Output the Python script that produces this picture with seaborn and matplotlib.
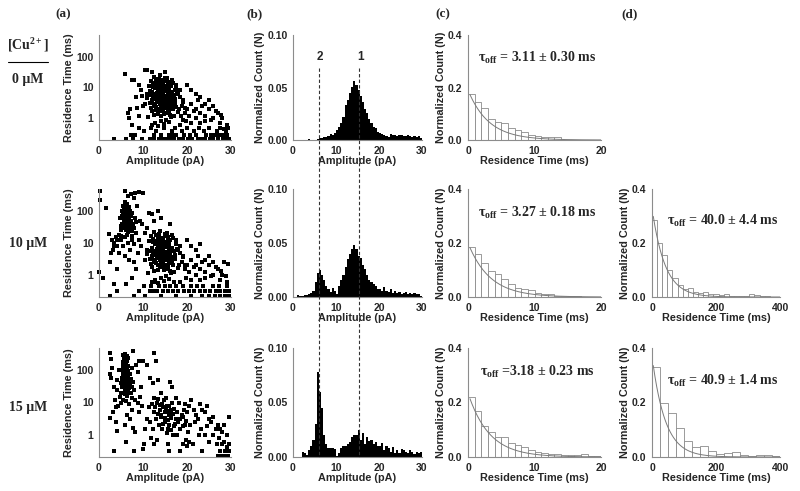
import numpy as np
import pandas as pd
import matplotlib
matplotlib.use("Agg")
import matplotlib.pyplot as plt
import matplotlib.transforms as mtrans
from matplotlib.lines import Line2D
import seaborn as sns

sns.set_style("white")
plt.rcParams["font.family"] = ["Liberation Sans", "DejaVu Sans"]
plt.rcParams["mathtext.fontset"] = "custom"
plt.rcParams["mathtext.rm"] = "Liberation Serif:bold"
plt.rcParams["mathtext.bf"] = "Liberation Serif:bold"
plt.rcParams["mathtext.it"] = "Liberation Serif:bold"

# ---------------- data ----------------
concentrations = ["0 \u03bcM", "10 \u03bcM", "15 \u03bcM"]

# shared dense core of the ~15 pA population (amplitude pA, residence time ms)
core_15pA = [
    (12.3, 4.1), (13.1, 6.5), (13.8, 2.9), (14.2, 8.8), (14.7, 3.6), (15.1, 5.2), (15.6, 12.1), (16.2, 4.4),
    (13.5, 15.3), (14.9, 19.8), (12.8, 9.4), (11.6, 3.2), (12.1, 1.8), (13.4, 1.4), (14.5, 1.9), (15.8, 2.3),
    (16.7, 7.1), (17.3, 3.1), (17.9, 1.6), (16.4, 1.1), (15.3, .9), (14.0, .8), (12.7, .7), (11.2, 1.1),
    (10.8, 6.1), (11.4, 11.2), (12.5, 22.0), (13.9, 24.5), (15.5, 21.0), (16.9, 14.0), (17.6, 9.0), (18.3, 4.9),
    (18.8, 2.6), (13.2, 3.3), (14.4, 5.7), (15.4, 7.6), (16.0, 9.9), (14.8, 10.8), (13.7, 11.9), (12.9, 5.0),
    (12.0, 7.2), (14.1, 4.6), (15.9, 3.4), (16.8, 2.0), (13.0, 2.4), (14.6, 2.7), (15.2, 1.5), (16.1, 1.3),
    (12.4, 1.3), (11.8, 2.2), (11.0, 4.5), (10.5, 2.9), (17.0, 5.8), (17.8, 6.6), (18.5, 8.2), (19.2, 3.5),
    (19.6, 2.1), (13.3, 8.0), (14.3, 14.8), (15.0, 16.5), (16.3, 6.0), (15.7, 4.0), (14.9, 4.4), (13.6, 5.3),
    (12.6, 3.0), (13.9, 3.9), (14.4, 2.2), (15.5, 2.9), (16.5, 3.6), (12.2, 10.5), (11.9, 16.8), (13.0, 18.2),
    (16.6, 17.5), (17.4, 12.5), (18.1, 2.0), (17.1, 1.2), (16.0, .75), (14.8, .65), (13.5, .55), (12.0, .6),
    (13.6, 7.0), (14.0, 6.0), (14.6, 6.8), (15.2, 9.0), (15.8, 6.5), (14.3, 11.0), (13.8, 4.8), (14.9, 3.1),
    (13.4, 4.4), (14.0, 3.2), (14.5, 4.9), (15.0, 3.9), (15.4, 4.7), (15.9, 5.1), (16.4, 3.0), (13.1, 3.8),
    (12.6, 5.6), (13.5, 9.8), (14.1, 7.4), (14.8, 8.2), (15.3, 11.0), (15.9, 7.8), (16.2, 2.6), (15.0, 2.1),
    (14.2, 2.6), (13.3, 2.0), (12.8, 2.6), (13.9, 1.7), (14.7, 1.4), (15.6, 1.7), (16.6, 2.5), (17.2, 4.2),
    (12.3, 13.0), (13.7, 19.0), (14.6, 13.5), (15.7, 15.5), (16.2, 12.8), (13.0, 11.5), (12.1, 3.9), (11.5, 5.6),
]

events_0uM = core_15pA + [
    (3.5, .21), (6.2, .21), (7.8, .21), (9.7, .21), (11.5, .21), (12.4, .21), (13.6, .21), (14.3, .21),
    (15.2, .21), (16.1, .21), (17.0, .21), (18.2, .21), (19.1, .21), (20.3, .21), (21.2, .21), (22.4, .21),
    (23.3, .21), (24.1, .21), (25.2, .21), (26.0, .21), (27.1, .21), (28.2, .21), (28.9, .21), (29.6, .21),
    (7.3, .3), (8.1, .3), (12.6, .3), (14.1, .3), (15.8, .3), (16.9, .3), (17.6, .3), (19.4, .3), (20.6, .3),
    (22.1, .3), (24.3, .3), (25.4, .3), (25.9, .3), (26.6, .3), (27.3, .3), (27.9, .3), (28.5, .3), (29.2, .3),
    (10.2, .4), (13.0, .4), (16.5, .4), (18.8, .4), (21.7, .4), (23.8, .4), (26.9, .4), (28.8, .4),
    (9.1, .5), (11.8, .5), (14.7, .5), (17.3, .5), (20.0, .5), (22.8, .5), (25.0, .5), (27.6, .5), (29.4, .5),
    (6.0, 28), (7.5, 18), (8.0, 18), (10.5, 38), (11.0, 36), (12.0, 32), (15.0, 32), (9.0, 12), (9.5, 8),
    (8.5, 5), (7.0, 2), (6.5, 1.5), (6.8, 1), (7.5, .6), (9.2, 1.2), (10.0, 2.5), (8.7, 2.2), (9.8, 5.5),
    (13.2, 12.5), (12.7, 14.0), (14.1, 17.0), (15.9, 14.5), (16.4, 11.5), (17.2, 8.0), (12.4, 6.2), (11.5, 7.8),
    (15.6, 5.6), (16.8, 4.7), (12.9, 1.9), (14.2, 1.2), (15.9, 1.8), (17.5, 2.4), (18.6, 1.2), (19.0, .9),
    (20, 12), (21, 8), (22, 6), (23, 5), (24, 3), (25, 4), (26, 2.5), (27, 1.5), (28, 1), (29, .6),
    (23, 1.5), (22, 1), (21, .7), (24, .8), (20, 2), (21, 3), (22, 2), (19, 4), (18, 6), (19.5, 1.5),
    (24, 1.2), (26, 1), (27.5, .7), (28.5, .45), (25, 2), (23.5, 2.5), (22.5, 4), (21.5, 1.8), (20.5, 1.2),
    (26.5, 1.8), (27.8, 1.3), (25.5, .9), (23.0, .7), (19.8, .8), (18.5, .6),
]

events_10uM = core_15pA + [
    (0.3, 440), (0.2, 226), (1.7, 130), (2.3, 19), (1.0, .8), (2.5, 2.5), (3.5, .5), (4.2, 1.5), (0.1, 1.2),
    (3.0, 12), (3.3, 8), (2.8, 5),
    (5.2, 40), (5.6, 65), (5.9, 90), (6.1, 120), (6.3, 55), (6.6, 75), (6.9, 35), (7.2, 50), (7.5, 28),
    (5.4, 150), (6.0, 200), (6.4, 170), (5.8, 30), (6.2, 25), (6.7, 22), (7.0, 100), (5.5, 85), (6.5, 110),
    (7.3, 70), (7.7, 40), (8.0, 30), (8.2, 60), (5.0, 25), (4.8, 60), (6.8, 140), (6.1, 45), (5.7, 52),
    (6.4, 38), (7.1, 32), (6.0, 70), (5.3, 100), (6.9, 60), (7.6, 24), (8.4, 45), (8.5, 20), (4.5, 18),
    (4.2, 12), (4.0, 8), (3.8, 15), (3.5, 10), (5.0, 12), (5.5, 8), (6.0, 15), (6.5, 10), (7.0, 6),
    (7.5, 12), (8.0, 9), (8.8, 5), (9.0, 12), (4.6, 5), (3.2, 6), (5.8, 4), (6.9, 3), (7.9, 2.5),
    (8.3, 1.5), (6.3, 18), (7.4, 17), (5.1, 17), (6.6, 300), (7.2, 350), (8.1, 380), (9.0, 400),
    (10.0, 380), (7.9, 260), (5.9, 420), (8.7, 150), (9.4, 50), (9.8, 40), (4.9, 35), (6.2, .5), (7.4, .8),
    (5.6, 48), (6.0, 58), (6.3, 80), (5.9, 38), (6.7, 45), (7.0, 42), (5.4, 33), (6.5, 28), (6.1, 95),
    (5.8, 130), (6.6, 60), (7.4, 85), (5.2, 70), (6.8, 30), (6.2, 150), (5.7, 110), (6.4, 90), (6.0, 36),
    (11.3, 90), (12.0, 80), (13.5, 100), (12.5, 50), (11.0, 30), (16.2, 40), (14.0, 60), (10.5, 20), (9.6, 8),
    (20, 12), (21, 8), (22, 6), (23, 9), (24, 3), (25, 4), (26, 2.5), (27, 1.5), (28, 1), (29, .6),
    (23, 1.5), (22, 1), (21, .7), (24, .8), (20, 2), (21, 3), (22, 2), (19, 4), (18, 6), (19.5, 1.5),
    (24, 1.2), (26, 1), (27.5, .7), (28.5, 2.5), (25, 2), (23.5, 2.5), (22.5, 4), (21.5, 1.8), (20.5, 1.2),
    (26.5, 1.8), (27.8, 1.3), (29.3, 2.2), (28.9, .9), (25.5, .9), (23.0, .7), (19.8, .8), (18.5, .6),
    (4.0, .3), (9.2, .3), (11.5, .3), (12.4, .3), (13.2, .3), (14.5, .3), (15.6, .3), (16.8, .3), (18.0, .3),
    (19.3, .3), (20.4, .3), (21.6, .3), (22.9, .3), (24.2, .3), (25.3, .3), (26.5, .3), (27.6, .3), (28.7, .3),
    (29.6, .3), (10.3, .45), (11.9, .45), (13.6, .45), (14.9, .45), (16.2, .45), (17.6, .45), (19.0, .45),
    (20.8, .45), (22.3, .45), (23.6, .45), (25.8, .45), (27.2, .45), (29.0, .45), (12.8, .6), (17.0, .6),
    (2.5, .21), (8.0, .21), (10.5, .21), (14.0, .21), (17.5, .21), (21.0, .21), (23.5, .21), (25.0, .21),
    (26.4, .21), (27.5, .21), (28.6, .21), (29.5, .21),
]

events_15uM = [
    (2.6, 350), (2.8, 220), (2.5, 80), (2.7, 60), (3.0, 120), (2.6, 3.2), (3.5, .3), (4.2, 1.3), (3.9, 2.5),
    (3.3, 30), (3.6, 12), (4.0, 50), (4.2, 25), (4.5, 100), (4.4, 8), (4.8, 15), (3.1, 5), (3.8, 7),
    (5.0, 40), (5.2, 60), (5.4, 90), (5.5, 140), (5.6, 200), (5.7, 70), (5.8, 110), (5.9, 50), (6.0, 160),
    (6.1, 85), (6.2, 45), (6.3, 130), (6.4, 65), (6.5, 35), (6.6, 95), (6.7, 55), (6.9, 28), (7.1, 75),
    (5.3, 30), (5.6, 45), (5.9, 25), (6.2, 38), (6.6, 22), (7.0, 40), (5.1, 20), (5.8, 18), (6.4, 16),
    (7.2, 20), (7.6, 30), (7.8, 45), (8.0, 25), (5.5, 300), (5.9, 330), (6.3, 280), (6.0, 240), (6.7, 250),
    (5.7, 55), (6.0, 60), (6.3, 70), (5.8, 80), (6.1, 100), (6.4, 110), (5.5, 120), (6.2, 180), (5.9, 150),
    (6.5, 60), (6.8, 80), (5.4, 65), (6.0, 34), (6.3, 28), (5.7, 32), (6.6, 42), (6.9, 48), (7.3, 55),
    (5.6, 95), (6.0, 125), (6.3, 100), (5.8, 170), (6.1, 210), (5.5, 75), (6.5, 140), (5.9, 65), (6.2, 55),
    (5.6, 38), (6.4, 48), (6.0, 44), (5.3, 48), (6.7, 70), (6.1, 30), (5.7, 260), (6.4, 200), (5.4, 180),
    (4.9, 10), (5.5, 12), (6.1, 11), (6.8, 9), (7.4, 14), (8.2, 12), (8.8, 10), (9.3, 15), (9.6, 30),
    (8.5, 150), (9.2, 200), (7.8, 400), (8.9, 90), (7.5, 120), (10.0, 200), (9.8, 8), (9.0, 5),
    (6.3, 4), (7.0, 3), (7.7, 1.6), (8.2, 1.2), (6.2, .6), (8.0, .3), (5.8, 2), (7.4, 6),
    (12.4, 350), (13.0, 200), (11.0, 150), (11.5, 60), (12.2, 40), (13.5, 50), (16.2, 45), (16.6, 30),
    (14.0, 20), (15.2, 14), (12.6, 14), (13.2, 10), (14.4, 9), (15.5, 8), (16.3, 6), (13.8, 6), (12.4, 5),
    (14.9, 5), (15.8, 4), (16.8, 4.5), (17.5, 3), (14.2, 3.5), (13.0, 3), (11.7, 2.5), (12.2, 1.5),
    (13.6, 2), (15.0, 2.5), (16.0, 2), (17.0, 1.8), (18.0, 2.5), (18.5, 1.5), (19.0, 3.5), (19.5, 2),
    (20.0, 5), (20.5, 8), (21.0, 12), (21.5, 6), (22.0, 4), (22.5, 3), (23.0, 9), (23.5, 6), (24.0, 5),
    (24.5, 8), (25.0, 3), (25.5, 2.5), (26.0, 3.5), (26.5, 1.5), (27.0, 2), (27.5, 1.5), (28.0, 1.2),
    (28.5, 2), (29.0, 1), (29.6, 3.5), (18.2, 10), (17.4, 14), (19.6, 9), (21.8, 2.5), (23.2, 1.5),
    (24.6, 1.8), (20.2, 1.2), (19.0, 1.8), (17.8, 1), (16.4, 1.4), (15.4, 1.1), (14.3, 1.5), (13.2, .7),
    (11.8, .8), (10.5, 1.5), (10.8, 3), (11.3, 7), (12.0, 9), (14.8, 12), (16.0, 8), (15.3, 6.5),
    (14.6, 7.5), (13.9, 8.5), (16.5, 10), (17.8, 5), (18.8, 4.2), (19.3, 6), (22.8, 1), (24.2, 1),
    (14.1, 4.2), (15.0, 3.4), (15.6, 2.8), (16.4, 3.3), (17.2, 2.2), (14.5, 2.2), (13.4, 4.5), (15.9, 5.5),
    (18.4, 3.0), (19.8, 2.6), (20.6, 2.0), (17.0, 6.5), (13.5, 12.5), (12.8, 7.0), (15.7, 1.5), (16.9, 1.0),
    (25.8, 1), (27.2, .8), (28.4, .6), (29.5, .5), (29.2, .4), (28.0, .5), (26.8, .5), (25.0, .6),
    (10.2, .5), (12.5, .5), (15.6, .5), (19.2, .5), (20.5, .6), (21.3, .5), (19.8, .7), (20.0, .45),
    (10.0, .35), (16.0, .3), (18.5, .3), (23.5, .3), (27.4, .3), (28.6, .3), (29.6, .3),
    (27.0, .21), (28.0, .21), (28.8, .21), (29.4, .21),
]

# (b) amplitude histograms, 0.5 pA bins from 0 to 30
amp_bin_edges = [i * 0.5 for i in range(61)]
amp_hist_0uM = [0, 0, 0, 0, 0, 0, 0, .001, 0, 0,
                0, .001, .002, .002, .003, .003, .004, .006, .005, .007,
                .010, .012, .016, .022, .033, .038, .045, .050, .056, .052,
                .048, .042, .036, .030, .026, .020, .016, .012, .011, .008,
                .007, .006, .005, .004, .003, .006, .005, .005, .004, .005,
                .005, .004, .004, .005, .004, .003, .004, .003, .004, .002]
amp_hist_10uM = [0, 0, .002, .001, .001, .002, .002, .003, .004, .006,
                 .014, .022, .025, .020, .016, .010, .007, .005, .008, .006,
                 .003, .010, .016, .020, .028, .035, .040, .044, .048, .044,
                 .038, .036, .030, .026, .020, .016, .014, .012, .010, .007,
                 .007, .006, .009, .006, .005, .007, .004, .006, .004, .005,
                 .003, .004, .005, .003, .004, .003, .004, .003, .003, .001]
amp_hist_15uM = [0, 0, 0, 0, .005, .004, .002, .006, .010, .016,
                 .030, .078, .060, .045, .020, .012, .008, .008, .008, .007,
                 .001, .004, .008, .010, .010, .012, .014, .018, .020, .020,
                 .025, .016, .022, .012, .018, .015, .016, .012, .014, .010,
                 .010, .013, .006, .010, .008, .005, .009, .004, .006, .004,
                 .007, .006, .005, .004, .006, .005, .003, .005, .004, .005]
peak_positions = [6.0, 15.4]
peak_labels = ["2", "1"]

# (c) residence-time histograms for peak 1, 1 ms bins, 0-20 ms
rt1_bin_edges = [float(i) for i in range(21)]
rt1_hist = [
    [.175, .145, .12, .08, .07, .065, .045, .04, .03, .02, .015, .012, .01, .012, 0, 0, 0, 0, 0, 0],
    [.185, .16, .125, .095, .085, .065, .05, .035, .03, .025, .015, .012, .01, .005, .004, .003, .002, .001, .001, 0],
    [.22, .17, .115, .09, .075, .072, .05, .045, .035, .025, .018, .015, .01, .012, .008, .006, .008, .01, .005, .003],
]
rt1_tau = [3.11, 3.27, 3.18]
rt1_amp = [0.19, 0.20, 0.235]
rt1_labels = ["= 3.11 \u00b1 0.30 ms", "= 3.27 \u00b1 0.18 ms", "=3.18 \u00b1 0.23 ms"]

# (d) residence-time histograms for peak 2 (10 and 15 uM)
rt2_bin_edges = [[16.0 * i for i in range(26)], [25.0 * i for i in range(17)]]
rt2_hist = [
    [.285, .20, .155, .10, .07, .043, .031, .035, .02, .015, .02, .01, .012, .008, .012,
     .005, .004, .003, .005, .012, .006, .005, .002, 0, 0],
    [.33, .20, .16, .105, .058, .035, .042, .022, .012, .016, .02, .006, .004, .006, .009, .002],
]
rt2_tau = [40.0, 40.9]
rt2_amp = [0.33, 0.37]
rt2_labels = ["= 40.0 \u00b1 4.4 ms", "= 40.9 \u00b1 1.4 ms"]

# ---------------- layout ----------------
W, H = 800, 491
fig = plt.figure(figsize=(8.0, 4.91), dpi=100)


def px_axes(x0, x1, y0, y1):
    return fig.add_axes([x0 / W, 1 - y1 / H, (x1 - x0) / W, (y1 - y0) / H])


rows_px = [(35, 140), (189, 297), (348, 457)]
col_a = (99, 231)
col_b = (293, 422)
col_c = (468, 601)
col_d = (652, 780)

SPINE = "#8c8c8c"
TICKFS = 7.5
LABFS = 7.8


def style(ax):
    sns.despine(ax=ax)
    for s in ["left", "bottom"]:
        ax.spines[s].set_color(SPINE)
        ax.spines[s].set_linewidth(0.8)
    ax.tick_params(axis="both", which="major", direction="out", length=2.5, width=0.7,
                   color=SPINE, labelsize=TICKFS, pad=1.5)
    for lab in ax.get_xticklabels() + ax.get_yticklabels():
        lab.set_fontweight("bold")
    ax.xaxis.label.set_fontsize(LABFS)
    ax.xaxis.label.set_fontweight("bold")
    ax.yaxis.label.set_fontsize(LABFS)
    ax.yaxis.label.set_fontweight("bold")
    ax.xaxis.labelpad = 0.5
    ax.yaxis.labelpad = 1.5


def hist_frame(edges, heights):
    left = np.asarray(edges[:-1], dtype=float)
    right = np.asarray(edges[1:], dtype=float)
    return pd.DataFrame({"x": (left + right) / 2, "w": np.asarray(heights, dtype=float)})


all_events = [events_0uM, events_10uM, events_15uM]
amp_hists = [amp_hist_0uM, amp_hist_10uM, amp_hist_15uM]

axes_b = []
for r, (y0, y1) in enumerate(rows_px):
    # (a) scatter
    ax = px_axes(col_a[0], col_a[1], y0, y1)
    df = pd.DataFrame(all_events[r], columns=["amp", "rt"])
    sns.scatterplot(data=df, x="amp", y="rt", ax=ax, marker="s", s=6.5, color="black",
                    linewidth=0, clip_on=False)
    ax.set_yscale("log")
    ax.set_xlim(0, 30)
    ax.set_ylim(0.2, 500)
    ax.set_xticks([0, 10, 20, 30])
    ax.set_yticks([1, 10, 100])
    ax.set_yticklabels(["1", "10", "100"])
    ax.minorticks_off()
    ax.set_xlabel("Amplitude (pA)")
    ax.set_ylabel("Residence Time (ms)")
    style(ax)

    # (b) amplitude histogram
    ax = px_axes(col_b[0], col_b[1], y0, y1)
    hb = hist_frame(amp_bin_edges, amp_hists[r])
    sns.histplot(data=hb, x="x", weights="w", bins=amp_bin_edges, ax=ax,
                 color="black", alpha=1, linewidth=0, element="bars")
    ax.set_xlim(0, 30)
    ax.set_ylim(0, 0.10)
    ax.set_xticks([0, 10, 20, 30])
    ax.set_yticks([0, 0.05, 0.10])
    ax.set_yticklabels(["0.00", "0.05", "0.10"])
    ax.set_xlabel("Amplitude (pA)")
    ax.set_ylabel("Normalized Count (N)")
    style(ax)
    axes_b.append(ax)

    # (c) residence time histogram, peak 1
    ax = px_axes(col_c[0], col_c[1], y0, y1)
    hc = hist_frame(rt1_bin_edges, rt1_hist[r])
    sns.histplot(data=hc, x="x", weights="w", bins=rt1_bin_edges, ax=ax,
                 color="white", edgecolor="#8a8a8a", alpha=1, linewidth=0.6)
    t = np.linspace(0.3, 20, 200)
    sns.lineplot(x=t, y=rt1_amp[r] * np.exp(-t / rt1_tau[r]), ax=ax, color="#7a7a7a", linewidth=0.7)
    ax.set_xlim(0, 20)
    ax.set_ylim(0, 0.4)
    ax.set_xticks([0, 10, 20])
    ax.set_yticks([0, 0.2, 0.4])
    ax.set_yticklabels(["0.0", "0.2", "0.4"])
    ax.set_xlabel("Residence Time (ms)")
    ax.set_ylabel("Normalized Count (N)")
    style(ax)
    ax.text(0.52, 0.78, r"$\mathrm{\tau_{off}}$" + " " + rt1_labels[r],
            transform=ax.transAxes, ha="center", va="center", fontsize=10,
            family="Liberation Serif", fontweight="bold")

    # (d) residence time histogram, peak 2
    if r >= 1:
        k = r - 1
        ax = px_axes(col_d[0], col_d[1], y0, y1)
        hd = hist_frame(rt2_bin_edges[k], rt2_hist[k])
        sns.histplot(data=hd, x="x", weights="w", bins=rt2_bin_edges[k], ax=ax,
                     color="white", edgecolor="#8a8a8a", alpha=1, linewidth=0.6)
        t = np.linspace(4, 400, 300)
        sns.lineplot(x=t, y=rt2_amp[k] * np.exp(-t / rt2_tau[k]), ax=ax, color="#7a7a7a", linewidth=0.7)
        ax.set_xlim(0, 400)
        ax.set_ylim(0, 0.4)
        ax.set_xticks([0, 200, 400])
        ax.set_yticks([0, 0.2, 0.4])
        ax.set_yticklabels(["0.0", "0.2", "0.4"])
        ax.set_xlabel("Residence Time (ms)")
        ax.set_ylabel("Normalized Count (N)")
        style(ax)
        ax.text(0.55, 0.7, r"$\mathrm{\tau_{off}}$" + " " + rt2_labels[k],
                transform=ax.transAxes, ha="center", va="center", fontsize=10,
                family="Liberation Serif", fontweight="bold")

# dashed peak lines spanning the (b) column
blend = mtrans.blended_transform_factory(axes_b[0].transData, fig.transFigure)
for xp, lab in zip(peak_positions, peak_labels):
    fig.add_artist(Line2D([xp, xp], [1 - 68 / H, 1 - 457 / H], transform=blend,
                          color="#333333", linestyle=(0, (3, 2)), linewidth=0.8))
    fig.text(xp + 0.2, 1 - 57 / H, lab, transform=blend, ha="center", va="center",
             fontsize=8.5, fontweight="bold")

# panel letters and row labels
serif = dict(family="Liberation Serif", fontweight="bold")
for lab, xpx in zip(["(a)", "(b)", "(c)", "(d)"], [63, 255, 443, 630]):
    fig.text(xpx / W, 1 - 14 / H, lab, ha="center", va="center", fontsize=9.5, **serif)

fig.text(28 / W, 1 - 45 / H, r"[Cu$^{\mathrm{2+}}$]", ha="center", va="center", fontsize=10, **serif)
fig.add_artist(Line2D([8 / W, 48 / W], [1 - 62 / H, 1 - 62 / H], transform=fig.transFigure,
                      color="black", linewidth=0.8))
for lab, ypx in zip(concentrations, [79, 244, 408]):
    fig.text(28 / W, 1 - ypx / H, lab, ha="center", va="center", fontsize=10, **serif)

fig.savefig("out.png", dpi=100)
